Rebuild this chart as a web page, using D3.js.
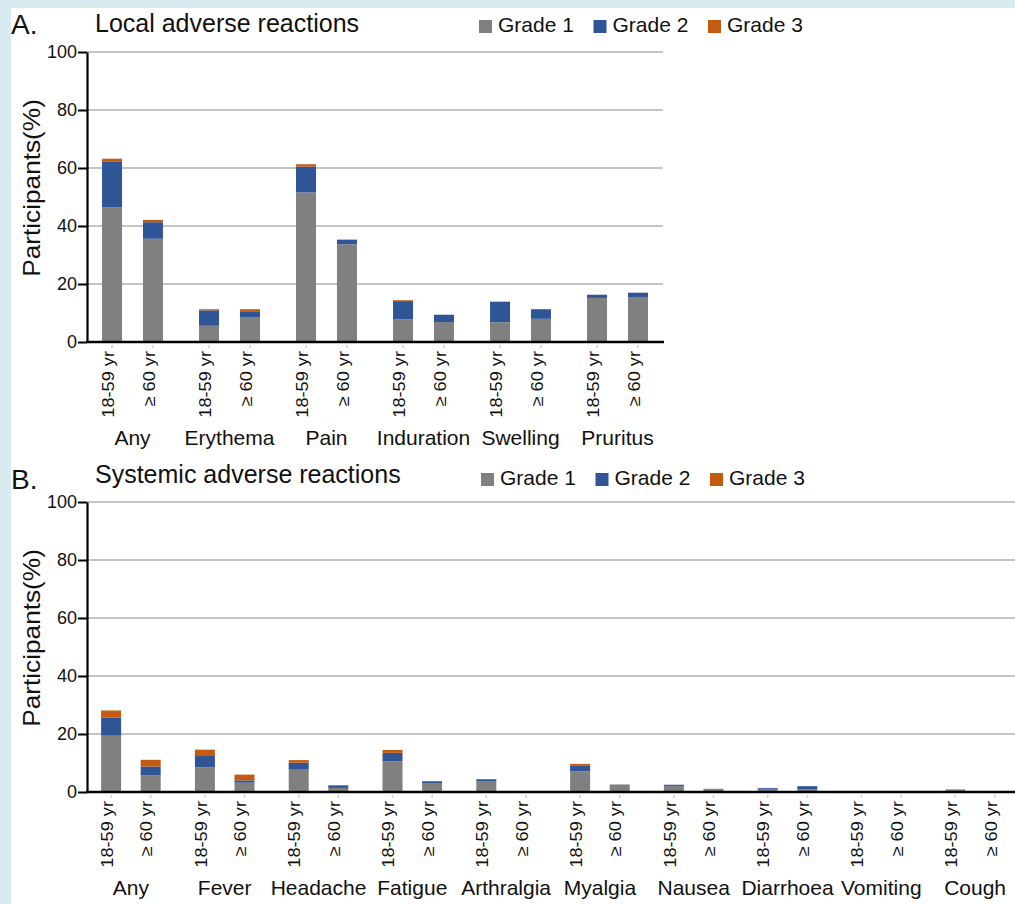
<!DOCTYPE html>
<html>
<head>
<meta charset="utf-8">
<script src="https://d3js.org/d3.v7.min.js"></script>
<style>
  body { margin: 0; background: #d7ebf1; }
  svg { display: block; }
  text { font-family: "Liberation Sans", Arial, sans-serif; fill: #111; }
</style>
</head>
<body>
<div class="chart"></div>
<script>
// data (percent of participants)
var ages = ["18-59 yr", "\u2265 60 yr"];
var grades = ["Grade 1", "Grade 2", "Grade 3"];
var gradeColors = ["#808080", "#2f5597", "#c55a11"];
var yTicks = [0, 20, 40, 60, 80, 100];

var localCats = ["Any", "Erythema", "Pain", "Induration", "Swelling", "Pruritus"];
// two values per category: 18-59 yr, >= 60 yr
var localG1 = [46.4, 35.6, 5.6, 8.6, 51.6, 33.7, 7.8, 6.9, 6.8, 8.0, 15.2, 15.5];
var localG2 = [15.9, 5.7, 5.3, 2.0, 8.9, 1.6, 6.3, 2.5, 7.1, 3.3, 1.1, 1.5];
var localG3 = [0.9, 0.8, 0.4, 0.7, 0.8, 0, 0.3, 0, 0, 0, 0, 0];

var sysCats = ["Any", "Fever", "Headache", "Fatigue", "Arthralgia", "Myalgia", "Nausea", "Diarrhoea", "Vomiting", "Cough"];
var sysG1 = [19.4, 5.7, 8.5, 3.2, 7.7, 1.4, 10.6, 2.9, 3.6, 0, 7.1, 2.6, 2.1, 1.1, 1.1, 1.0, 0, 0, 0.9, 0];
var sysG2 = [6.3, 3.1, 3.9, 0.8, 2.4, 0.9, 2.9, 0.8, 0.8, 0, 1.9, 0, 0.4, 0, 0.3, 1.0, 0, 0, 0, 0];
var sysG3 = [2.4, 2.3, 2.2, 2.0, 0.9, 0, 1.0, 0, 0, 0, 0.7, 0, 0, 0, 0, 0, 0, 0, 0, 0];

var width = 1015, height = 904;

var svg = d3.select("div.chart").append("svg")
    .attr("width", width)
    .attr("height", height);

// white card on the light blue page
svg.append("rect")
    .attr("x", 11).attr("y", 8)
    .attr("width", width - 11).attr("height", height - 8)
    .attr("fill", "#fff");

function buildRows(cats, g1, g2, g3) {
    var rows = [];
    for (var i = 0; i < cats.length; i++) {
        for (var j = 0; j < ages.length; j++) {
            var k = i * 2 + j;
            rows.push({"cat": cats[i], "age": ages[j], "Grade 1": g1[k], "Grade 2": g2[k], "Grade 3": g3[k]});
        }
    }
    return rows;
}

function drawPanel(p) {
    var g = svg.append("g");
    var rows = buildRows(p.cats, p.g1, p.g2, p.g3);

    var y = d3.scaleLinear().domain([0, 100]).range([p.y0, p.y1]);
    var x0 = d3.scaleBand().domain(p.cats).range([p.xa, p.xb]);
    var x1 = d3.scalePoint().domain(ages)
        .range([x0.bandwidth() * 0.289, x0.bandwidth() * 0.711]);
    var barW = 20;

    // gridlines
    g.append("g").selectAll("line.grid")
        .data(yTicks.slice(1))
        .enter().append("line")
        .attr("class", "grid")
        .attr("x1", p.axisX).attr("x2", p.gridEnd)
        .attr("y1", function(d) { return y(d); })
        .attr("y2", function(d) { return y(d); })
        .attr("stroke", "#c4c4c4")
        .attr("stroke-width", 2);

    // stacked bars
    var stack = d3.stack().keys(grades);
    var series = stack(rows);
    g.append("g").selectAll("g.series")
        .data(series)
        .enter().append("g")
        .attr("class", "series")
        .attr("fill", function(d, i) { return gradeColors[i]; })
        .selectAll("rect")
        .data(function(d) { return d; })
        .enter().append("rect")
        .attr("x", function(d) { return x0(d.data.cat) + x1(d.data.age) - barW / 2; })
        .attr("y", function(d) { return y(d[1]); })
        .attr("width", barW)
        .attr("height", function(d) { return Math.max(0, y(d[0]) - y(d[1])); });

    // y axis
    var yAxis = d3.axisLeft(y).tickValues(yTicks).tickSize(9).tickSizeOuter(0).tickPadding(1);
    var ya = g.append("g")
        .attr("transform", "translate(" + p.axisX + ",0)")
        .call(yAxis);
    ya.select(".domain").attr("stroke", "#000").attr("stroke-width", 2.2);
    ya.selectAll(".tick line").attr("stroke", "#000").attr("stroke-width", 2);
    ya.selectAll(".tick text")
        .attr("font-size", 18)
        .attr("font-family", "Liberation Sans, Arial, sans-serif")
        .attr("fill", "#111");

    // baseline
    g.append("line")
        .attr("x1", p.axisX - 1).attr("x2", p.baseEnd)
        .attr("y1", y(0)).attr("y2", y(0))
        .attr("stroke", "#000").attr("stroke-width", 2.6);

    // faint tick marks under each bar
    g.append("g").selectAll("line.xt")
        .data(rows)
        .enter().append("line")
        .attr("x1", function(d) { return x0(d.cat) + x1(d.age); })
        .attr("x2", function(d) { return x0(d.cat) + x1(d.age); })
        .attr("y1", y(0) + 3).attr("y2", y(0) + 6)
        .attr("stroke", "#cfcfcf").attr("stroke-width", 1.5);

    // rotated age labels
    g.append("g").selectAll("text.age")
        .data(rows)
        .enter().append("text")
        .attr("class", "age")
        .attr("font-size", 17)
        .attr("text-anchor", "end")
        .attr("dy", "0.1em")
        .attr("transform", function(d) {
            return "translate(" + (x0(d.cat) + x1(d.age)) + "," + (y(0) + 9) + ") rotate(-90) scale(1.07,1)";
        })
        .text(function(d) { return d.age; });

    // category labels
    g.append("g").selectAll("text.cat")
        .data(p.cats)
        .enter().append("text")
        .attr("class", "cat")
        .attr("font-size", 21)
        .attr("text-anchor", "middle")
        .attr("x", function(d) { return x0(d) + x0.bandwidth() / 2; })
        .attr("y", y(0) + 103)
        .text(function(d) { return d; });

    // y title
    g.append("text")
        .attr("font-size", 23)
        .attr("text-anchor", "middle")
        .attr("transform", "translate(40," + ((p.y0 + p.y1) / 2 - 9) + ") rotate(-90) scale(1.14,1)")
        .text("Participants(%)");

    // panel letter and title
    g.append("text")
        .attr("font-size", 28)
        .attr("x", 11).attr("y", p.letterY)
        .text(p.letter);
    g.append("text")
        .attr("font-size", 25)
        .attr("x", 95).attr("y", p.titleY)
        .text(p.title);

    // legend
    var leg = g.append("g").selectAll("g.leg")
        .data(grades)
        .enter().append("g")
        .attr("class", "leg")
        .attr("transform", function(d, i) { return "translate(" + (p.legX + i * 114.5) + "," + p.legY + ")"; });
    leg.append("rect")
        .attr("x", 0).attr("y", -12)
        .attr("width", 13).attr("height", 13)
        .attr("fill", function(d, i) { return gradeColors[i]; });
    leg.append("text")
        .attr("font-size", 21)
        .attr("x", 19).attr("y", 0)
        .text(function(d) { return d; });
}

drawPanel({
    cats: localCats, g1: localG1, g2: localG2, g3: localG3,
    y0: 342, y1: 52, xa: 84, xb: 666, axisX: 87, gridEnd: 663, baseEnd: 664,
    letter: "A.", letterY: 34, title: "Local adverse reactions", titleY: 32,
    legX: 479, legY: 32
});

drawPanel({
    cats: sysCats, g1: sysG1, g2: sysG2, g3: sysG3,
    y0: 792, y1: 502, xa: 84, xb: 1022, axisX: 87, gridEnd: 1015, baseEnd: 1015,
    letter: "B.", letterY: 489, title: "Systemic adverse reactions", titleY: 483,
    legX: 481, legY: 485
});
</script>
</body>
</html>
